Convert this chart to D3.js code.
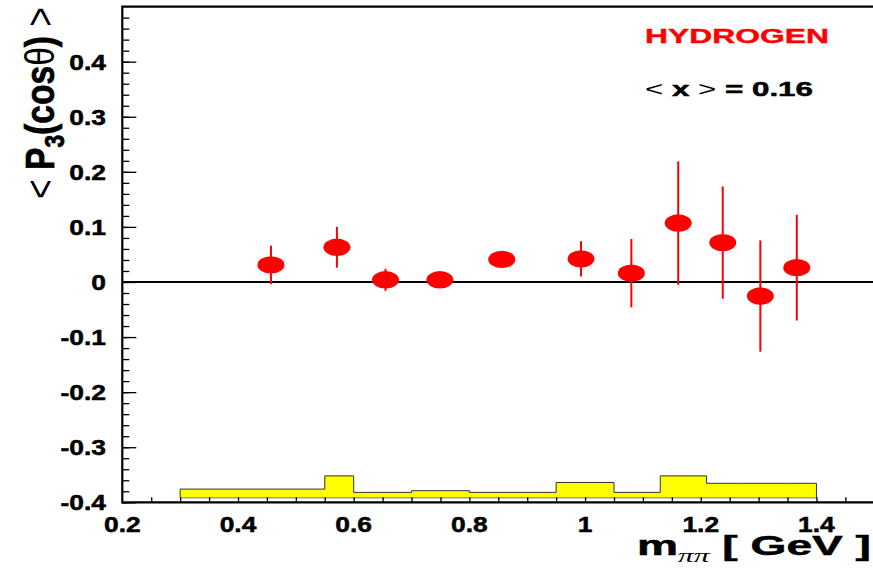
<!DOCTYPE html>
<html>
<head>
<meta charset="utf-8">
<title>P3 hydrogen</title>
<style>
  body { margin: 0; background: #fff; }
  svg text { font-family: "Liberation Sans", Arial, sans-serif; font-weight: bold; }
  .heavy { stroke: #000; stroke-width: 0.5px; }
  .thin { font-weight: normal; stroke: none; }
</style>
</head>
<body>
<svg id="chart" width="873" height="571"></svg>
<script src="https://cdn.jsdelivr.net/npm/d3@7/dist/d3.min.js"></script>
<script>
// measured points: m_pipi (GeV), <P3(cos theta)>, stat. error
var mass = [0.457, 0.571, 0.655, 0.749, 0.856, 0.993, 1.080, 1.161, 1.238, 1.303, 1.366];
var p3   = [0.031, 0.063, 0.004, 0.004, 0.041, 0.042, 0.016, 0.107, 0.0715, -0.0255, 0.026];
var err  = [0.035, 0.037, 0.020, 0.008, 0.008, 0.032, 0.062, 0.112, 0.102, 0.101, 0.096];

// systematic band (yellow histogram at the bottom)
var sysEdges = [0.30, 0.55, 0.60, 0.70, 0.80, 0.95, 1.05, 1.13, 1.21, 1.27, 1.35, 1.40];
var sysTop   = [-0.376, -0.352, -0.382, -0.379, -0.382, -0.364, -0.382, -0.352, -0.3655, -0.3655, -0.3655];
var sysBase  = -0.392;

var yMajor = [-0.4, -0.3, -0.2, -0.1, 0, 0.1, 0.2, 0.3, 0.4];
var xMajor = [0.2, 0.4, 0.6, 0.8, 1.0, 1.2, 1.4];

var SX = 1.2; // the original picture is stretched sideways

var svg = d3.select('#chart');
var box = {l: 122.3, t: 6.6, b: 502.3, r: 874.3};
var x = d3.scaleLinear().domain([0.2, 1.5]).range([box.l, box.r]);
var y = d3.scaleLinear().domain([-0.4, 0.5]).range([box.b, box.t]);

function fmt(v) { return String(+v.toFixed(1)); }

// --- systematic histogram
var pts = sysTop.map(function(v, i) { return {x: sysEdges[i], y: v}; });
pts.push({x: sysEdges[sysEdges.length - 1], y: sysTop[sysTop.length - 1]});
svg.append('path')
  .attr('d', d3.area().curve(d3.curveStepAfter)
    .x(function(d) { return x(d.x); }).y0(y(sysBase)).y1(function(d) { return y(d.y); })(pts))
  .style('fill', '#ffff00');
var outline = [{x: sysEdges[0], y: sysBase}].concat(pts, [{x: sysEdges[sysEdges.length - 1], y: sysBase}]);
svg.append('path')
  .attr('d', d3.line().curve(d3.curveStepAfter)
    .x(function(d) { return x(d.x); }).y(function(d) { return y(d.y); })(outline))
  .style('fill', 'none').style('stroke', '#333').style('stroke-width', 1);
svg.append('line')
  .attr('x1', x(sysEdges[0])).attr('x2', x(sysEdges[sysEdges.length - 1]))
  .attr('y1', y(sysBase)).attr('y2', y(sysBase))
  .style('stroke', '#777').style('stroke-width', 1);

// --- ticks
var yMinor = d3.range(-20, 25).map(function(i) { return i * 0.02; });
svg.append('g').attr('transform', 'translate(' + box.l + ',0)')
  .call(d3.axisRight(y).tickValues(yMinor).tickSize(7).tickFormat(''))
  .call(function(g) { g.select('.domain').remove(); });
svg.append('g').attr('transform', 'translate(' + box.l + ',0)')
  .call(d3.axisRight(y).tickValues(yMajor).tickSize(14).tickFormat(''))
  .call(function(g) { g.select('.domain').remove(); });
var xMinor = d3.range(5, 30).map(function(i) { return i * 0.05; });
svg.append('g').attr('transform', 'translate(0,' + box.b + ')')
  .call(d3.axisTop(x).tickValues(xMinor).tickSize(5).tickFormat(''))
  .call(function(g) { g.select('.domain').remove(); });
svg.selectAll('.tick line').style('stroke', '#000').style('stroke-width', 1.3);

// --- frame
svg.append('path')
  .attr('d', 'M' + box.r + ',' + box.t + 'H' + box.l + 'V' + box.b + 'H' + box.r)
  .style('fill', 'none').style('stroke', '#000').style('stroke-width', 2.2);

// zero line
svg.append('line')
  .attr('x1', box.l).attr('x2', box.r).attr('y1', y(0)).attr('y2', y(0))
  .style('stroke', '#000').style('stroke-width', 2.2);

// --- data
var pg = svg.append('g');
mass.forEach(function(m, i) {
  pg.append('line')
    .attr('x1', x(m)).attr('x2', x(m))
    .attr('y1', y(p3[i] - err[i])).attr('y2', y(p3[i] + err[i]))
    .style('stroke', '#ff0000').style('stroke-width', 2);
  pg.append('ellipse')
    .attr('cx', x(m)).attr('cy', y(p3[i]))
    .attr('rx', 13.5).attr('ry', 8.7)
    .style('fill', '#ff0000');
});

// --- tick labels
yMajor.forEach(function(v) {
  svg.append('text').attr('class', 'heavy')
    .attr('transform', 'translate(106,' + (y(v) + 8) + ') scale(' + SX + ',1)')
    .attr('text-anchor', 'end')
    .style('font-size', '22px')
    .text(fmt(v));
});
xMajor.forEach(function(v) {
  svg.append('text').attr('class', 'heavy')
    .attr('transform', 'translate(' + x(v) + ',532) scale(' + SX + ',1)')
    .attr('text-anchor', 'middle')
    .style('font-size', '22px')
    .text(fmt(v));
});

// stretch a text so its width matches the reference
function fit(t, px, py, anchor, w, sy) {
  t.attr('text-anchor', anchor);
  var bb = t.node().getBBox();
  var s = w / bb.width;
  t.attr('transform', 'translate(' + px + ',' + py + ') scale(' + s + ',' + (sy || 1) + ')');
}

// --- annotations
var h = svg.append('text').style('font-size', '21px').style('fill', '#ff0000')
  .style('stroke', '#ff0000').style('stroke-width', '0.4px').text('HYDROGEN');
fit(h, 645, 42.5, 'start', 184);

var xm = svg.append('text').attr('class', 'heavy').style('font-size', '21px');
xm.append('tspan').attr('class', 'thin').text('<');
xm.append('tspan').text(' x ');
xm.append('tspan').attr('class', 'thin').text('>');
xm.append('tspan').text(' = 0.16');
fit(xm, 645, 96, 'start', 168);

// x title
var xt = svg.append('text').attr('class', 'heavy').style('font-size', '28px');
xt.append('tspan').text('m');
xt.append('tspan').attr('class', 'thin').attr('dy', 7)
  .style('font-family', '"Liberation Serif", serif').style('font-style', 'italic').style('font-size', '19px')
  .text('ππ');
xt.append('tspan').attr('dy', -7).text(' [ GeV ]');
fit(xt, 871, 555, 'end', 234);

// y title (rotated)
var yt = svg.append('text').attr('class', 'heavy').style('font-size', '28px');
yt.append('tspan').attr('class', 'thin').text('<');
yt.append('tspan').text(' P');
yt.append('tspan').attr('dy', 7).style('font-size', '19px').text('3');
yt.append('tspan').attr('dy', -7).text('(cos');
yt.append('tspan').attr('class', 'thin').text('θ');
yt.append('tspan').text(')');
yt.append('tspan').attr('class', 'thin').text(' >');
yt.attr('text-anchor', 'middle');
var ybb = yt.node().getBBox();
yt.attr('transform', 'translate(54,103) rotate(-90) scale(' + (192 / ybb.width) + ',1.45)');
</script>
</body>
</html>
